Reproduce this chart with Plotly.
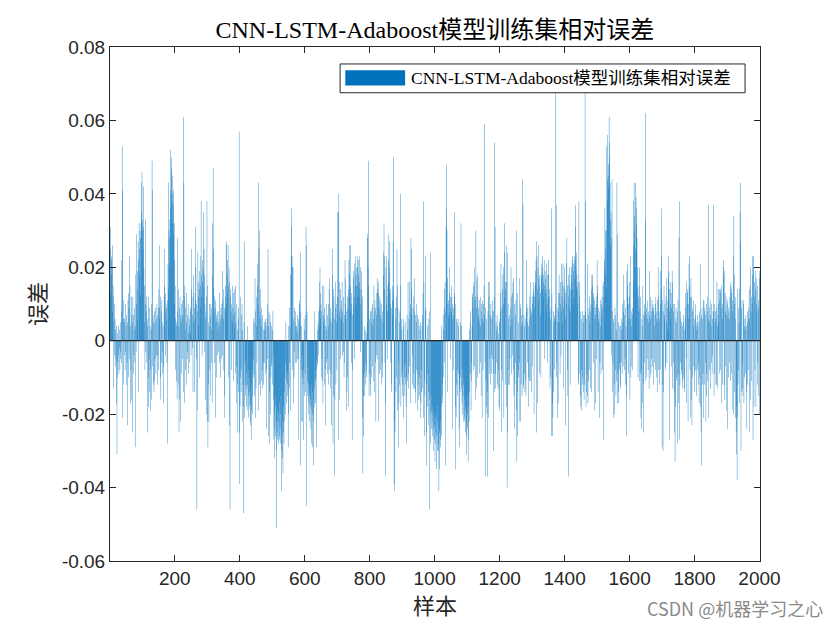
import plotly.graph_objects as go

# Relative error per training sample, in units of 0.001
err_block_01 = [31, 13, 25, 18, 22,
    23, 20, 26, 8, 15, -13, 12, 5, -4, 10,
    6, -7, 3, -5, 4, -17, -31, -10, 2, -6,
    -4, 4, -9, -2, 3, -8, -5, 5, -3, -6,
    8, 22, 53, 41, -21, 6, 11, -12, -4, 5,
    6, -8, 10, -3, 4, -12, 7, -6, -23, 5,
    11, -10, 13, 9, 23, -5, 15, -17, 4, -8,
    12, -16, 7, -25, 5, 12, -9, 7, -4, 3,
    9, -6, -29, 4, 18, -3, 10, 29, 14, 6,
    19, 27, -14, 22, 32, 25, 18, 30, 12, 28,
    32, 43, 35, 46, 30, 33, 25, 42, 31, 20,
    15, 5, -8, 10, 33, -3, 8, 12, -6, 4,
    -25, 6, -10, -18, 12, -5, 9, -14, 4, -8,
    -19, 3, -16, 10, 49, 41, -7, 7, -12, 5,
    -14, 8, -11, 5, -5, 9, -9, 6, -4, 10,
    -12, 7, -4, 9, -8, 14, 26, 9, 6, -10, 12, -16, 8, -6, 11, -3, 5, -9, 4]
err_block_02 = [-7, -17, 12, 25, 15, 8, 13, -4, 10, 6,
    9, -6, 11, -28, 21, 14, 43, 30, 20, 28,
    33, 36, 52, 41, 47, 50, 38, 45, 32, 40,
    41, 37, 29, 32, 22, 10, 15, 6, -8, 4,
    -11, 5, -16, 28, 8, -12, 14, 4, -25, 9,
    -16, 12, 7, -22, 5, 10, -9, 6, 11, -5,
    7, -14, 61, 43, 12, -17, 15, -8, 9, 3,
    -12, 13, 5, -5, 7, -3, 10, 2, -9, 6,
    4, -6, 8, 2, 9, -4, 25, 14, 12, -2,
    7, -14, 5, 18, 13, 9, -14, 6, 31, 11,
    20, 10, -5, -46, -19, 8, 24, 12, 16, 4,
    19, -10, 14, 23, 15, 9, 38, 18, 12, -4,
    22, 16, 20, 14, 35, 25, 18, -3, 10, 6,
    -16, 8, -20, 12, 38, 15, -22, -29, 5, -12,
    -22, 4, 10, -8, -15, 7, 10, -6, 3, 9,
    -17, 32, 18, 47, 14, 25, 8, 12, -6, 9, -21, 11, 5, -10, 7,
    6, -4, 8, 3]
err_block_03 = [5, -3, 8, -6, 13, 4, -10, 6, 9, -5,
    7, 10, -4, 19, 11, 6, 14, -8, -15, 9,
    -21, 12, 8, 15, 26, 10, 27, 18, 22, 13,
    26, 15, -10, 20, 16, -23, -46, 14, 12, 8,
    -8, 10, 6, 15, 5, 9, 13, -11, 7, 4,
    14, 8, 15, -9, 5, -17, -7, 10, -12, 3,
    -25, 6, -14, 9, 57, -39, -25, -18, 12, -10,
    -14, 7, -8, 10, 3, -22, -12, -47, -18, 5,
    27, -21, -6, -15, -12, -5, -18, -9, -13, 4,
    -12, -19, -8, -21, -15, -10, -18, -14, -22, -17,
    -23, -12, -27, -19, -8, -20, -15, -10, 6, -5,
    -9, 5, -15, 17, 8, -21, -13, 12, 4, -6,
    15, 21, 10, -19, 43, 25, 30, -12, 8, 14,
    -15, 6, -11, 9, 4, -8, 7, -13, 3, -6,
    -12, 5, -6, 3, 6, 5, -9, 4, -24, -8,
    6, -5, 10, 25, 4, -26, 8, -14, -28, 7, -20, 5, -10, 4, -7,
    -6, 3, -12, 8, -4]
err_block_04 = [-16, -27, -32, -20, -24, -18, -26, -15, -30, -22,
    -51, -25, -19, -27, -22, -28, -20, -26, -17, -27,
    -24, -20, -28, -15, -30, -41, -26, -32, -22, -36,
    -25, -18, -28, -14, -22, -10, -20, -6, 5, -11,
    -17, -8, -15, -12, -9, -29, -20, 4, -13, -6,
    9, 4, 18, -19, 23, 36, 31, 23, 20, -8,
    20, -17, 6, -10, 9, -3, 5, 8, -6, 4,
    4, -6, 3, 7, -5, 2, 6, -27, -5, 10,
    11, 5, 24, -34, 8, -22, -8, 4, -10, -4,
    -22, -12, -27, -8, 6, -15, 3, -9, 7, -14,
    31, 26, -45, 8, -11, -15, -7, -20, -12, -17,
    -15, -22, -13, -18, -16, -24, -12, -28, -19, -14,
    -29, -20, -34, -22, -16, -18, -13, 8, -10, -17,
    -11, -8, -29, -5, -7, 3, -6, 5, -4, 8,
    4, 9, 16, 20, 13, 6, 10, 8, -10, -5,
    -11, 15, -17, 5, 7, 15, 9, -12, 6, -23, 4, -8, 10, -6, 3,
    -5, 7, -9, 4]
err_block_05 = [10, -12, 14, -8, 17, 6, -13, 9, -9, 5,
    -23, 8, 25, 18, -28, 14, -15, 12, -37, 6,
    -16, 9, 16, -12, 5, 10, -8, 12, 35, 7,
    35, -27, 40, 16, 8, -16, 6, 14, -5, 9,
    11, 6, 16, -4, 8, 5, 12, -3, -10, 7,
    -6, 22, 10, 17, 6, -19, 8, -14, -10, 12,
    9, -18, 14, 22, 18, 26, 12, 26, 15, 8,
    13, -6, 10, -27, 7, -8, 17, 9, 19, 12,
    21, -5, 15, 23, 18, 10, 15, 20, 12, 23,
    20, 15, 22, 18, 12, 23, 16, 14, 20, -3,
    10, 19, 14, 6, 12, -21, -36, -15, -26, -10,
    4, -9, -15, 3, -12, -6, 2, -8, -10, 5,
    28, 29, 20, 49, 15, -15, -9, 6, -12, 8,
    -15, 8, -10, 5, 9, -7, 10, 4, -11, 6,
    15, 8, -14, 11, -6, 9, -22, 7, -4, 13,
    17, 14, -5, 16, 13, -22, 9, 12, -9, 7, 11, -8, 6, -12, 10,
    -6, 8, -10, 5]
err_block_06 = [24, 18, 32, 23, 14, -6, -37, -17, 20, 10,
    23, 12, -5, 8, 15, 22, 16, 29, 13, 20,
    27, 14, 10, -6, 9, -14, -12, 7, 15, 11,
    27, 50, 13, -39, -22, -41, -25, 9, 6, -14,
    -10, 12, 25, 15, -19, 9, -6, -29, -17, 5,
    -12, 8, 40, 15, -18, 6, -10, 3, -15, -8,
    -12, 4, -21, 6, -15, -7, -10, 5, -6, -12,
    -18, -28, -10, 7, -11, 3, 16, -9, -13, 6,
    16, -7, 8, -17, 10, 28, 14, 25, 7, -12,
    -4, 9, -13, 12, -9, 17, 8, -13, -14, 7,
    -17, 5, -8, 10, -9, 7, -19, -12, 6, -16,
    4, -15, -10, 3, -21, 5, -17, -8, -14, 4,
    -13, 7, 13, 38, -21, 16, -26, -11, -15, 8,
    23, 9, -34, -25, -12, 4, -18, -9, 6, -14,
    -23, -16, -46, 8, -20, 24, -28, -15, -19, -24,
    -22, -18, -26, -20, -24, -30, -19, -27, -23, -33, -21, -28, -25, -35, -20,
    -26, -22, -30, -18]
err_block_07 = [-28, -30, -41, -25, -35, -24, -29, -22, -27, -18,
    -26, 4, -15, -17, -12, 7, -10, 3, 9, -6,
    14, 16, -34, 8, 31, 36, 48, 30, 17, -14,
    10, 7, 11, 6, 20, 13, 8, 12, -5, 9,
    15, 8, 12, 10, -24, 6, 9, -8, 7, 13,
    12, 35, 10, -18, -35, -21, 6, -12, 5, -8,
    -15, 6, -9, 4, -24, -12, -29, -14, 5, -10,
    32, 4, -13, -17, -20, -8, -15, -12, -22, -10,
    -21, -16, -22, -18, -25, -19, -31, -23, -26, -15,
    -24, -20, -33, -27, -18, -22, -14, 3, 5, -9,
    8, -19, -6, -11, 4, 12, 13, 9, -8, 15,
    16, 20, -7, 11, -16, 12, 30, -13, 9, 17,
    18, -10, 12, 6, 9, 7, -9, 11, 5, -6,
    12, 4, -15, 8, 10, -21, 6, 11, -8, 5,
    10, 15, 7, 59, -6, 9, -37, -11, 6, -18,
    -20, -37, -14, 8, 16, -21, 12, -9, 16, -5, 7, -12, 10, -4, 6,
    -9, 11, -5, 8]
err_block_08 = [-9, -30, 8, 12, -14, 54, 31, -13, -9, 5,
    3, -6, 7, -12, 4, -13, 2, -8, -18, 5,
    -19, 6, 8, 13, 21, -8, -25, 9, 14, -11,
    18, 20, 10, -21, 12, 32, 24, 16, -12, 14,
    26, 16, -18, -40, 24, -25, 10, -12, 6, -8,
    -12, 7, -5, 4, 9, 20, 12, -9, 6, -4,
    13, 16, -8, 17, -15, -24, 10, -12, 7, -6,
    11, -19, 30, -33, 13, -26, -14, -8, 5, -10,
    -22, -6, 17, 10, -22, 9, -12, 4, 7, -15,
    5, 44, 37, -12, -13, 7, -9, 4, -14, 6,
    -11, -15, 22, 8, 10, 5, -6, 9, -18, 4,
    -10, -11, 6, 12, 16, -11, 9, 7, -14, 8,
    12, 10, -7, 14, 13, 16, -20, 12, 9, 15,
    19, 16, 22, 27, -25, 23, 14, -17, 20, 11,
    26, 17, 15, -9, 18, 13, 7, -10, 17, 21,
    18, 14, 23, 20, 16, 18, 12, 22, 15, -5, 19, 13, 17, 8, 21,
    14, 10, 18, -6, 12]
err_block_09 = [22, 18, 12, 8, 14, -13, 6, -10, 9, -26,
    36, 13, -26, -17, -21, 8, -14, 5, -8, 6,
    7, 10, 6, 68, 37, -10, -6, 9, -21, 5,
    -17, 13, 8, 18, 13, 5, -9, 16, 10, -4,
    21, 8, 12, 16, 5, 21, -13, 9, 15, 11,
    20, 14, 6, -23, 13, 10, 21, 28, 15, -8,
    -15, 12, -37, 18, 15, 9, 20, -12, 14, 8,
    18, 20, 16, 22, 14, 23, 10, 19, 21, 12,
    23, 17, 22, 37, 31, 20, 15, 24, 18, 10,
    14, 16, -12, -11, 38, 16, 12, -9, 8, -15,
    -18, -19, 6, -8, 8, -12, -10, 5, -14, 7,
    -16, -12, 7, 68, 38, 8, -18, -14, 6, -9,
    21, -15, -17, 7, -11, 9, 12, -8, 5, -13,
    8, 10, -14, 14, 18, 15, 18, 9, -6, 12,
    13, 11, 6, -19, 9, -17, 7, 12, 10, -5,
    22, 13, 15, -14, 6, 9, 5, -21, 8, -6, 11, 4, -9, 7, 10,
    12, -8, 9, 15]
err_block_10 = [-27, 16, 12, 20, 22, 36, 18, 30, 25, 14,
    30, 53, 38, 44, 56, 45, 48, 42, 61, 54,
    50, 43, 33, 26, 35, -4, 28, 44, -14, 8,
    -6, 6, -21, 5, -20, -12, 9, -8, 7, -15,
    3, -11, 43, 29, -17, -9, -14, 5, -17, -6,
    -8, 4, -12, 4, -13, 6, -6, 3, -9, 5,
    10, -7, 18, 8, 11, -8, 7, -5, 9, -12,
    4, -15, -26, 19, 15, 21, 12, -9, 10, 6,
    16, 12, -16, 23, 6, -10, 8, 4, -7, 9,
    7, -8, 15, 38, 26, 43, 30, 34, 20, 25,
    43, 39, 36, 32, 28, 20, 14, -10, 12, 8,
    15, -11, 20, 9, -9, 12, -21, -8, -24, 6,
    -17, 4, 15, -12, -25, 7, 10, -6, 8, -11,
    62, 33, 7, -10, 9, -5, 6, 11, -8, 5,
    8, -13, 19, 7, -10, 12, 6, -9, 8, -5,
    11, 9, -7, 10, 8, -12, 9, 4, -6, 7, 10, -8, 12, 6, -10,
    8, -14, 11, 5]
err_block_11 = [20, 12, -8, 8, -12, 6, -8, 10, 19, 14,
    23, 36, -29, -12, 11, -30, 8, -14, 15, 6,
    7, 10, -8, -7, 12, 17, 5, -6, 9, 3,
    11, 23, 17, 19, 14, -27, 8, 16, 10, 6,
    13, -7, 9, 19, 16, -13, 10, -6, 8, -14,
    -25, 10, -33, 6, -18, 9, -11, 5, -10, 8,
    -28, 11, -17, -9, 28, 38, -27, -12, 8, -6,
    6, -8, 5, -9, -13, 4, -11, 7, -10, 5,
    -13, 3, -14, 6, 9, 13, -5, 16, -17, 10,
    13, 14, -22, 6, 10, 21, 15, 23, -8, 12,
    -21, 17, -16, 12, -23, 8, -10, 9, -7, 11,
    4, -14, 6, -9, 7, 10, -8, 5, -15, 3,
    4, -8, 7, -12, 5, -6, -17, 8, -10, 6,
    -18, 21, -25, 7, -34, 9, -12, 6, -9, 11,
    -21, 11, 8, -12, 9, -6, 7, -22, 10, -15,
    -9, 8, 12, -11, 6, 37, -21, 9, 5, -8, 11, -13, 7, 4, -6,
    10, -9, 6, -4, 8]
err_block_12 = [37, 8, -15, 10, -9, 5, 8, 6, -12, 9,
    -12, 16, -13, 4, 7, 14, 10, 5, 14, -9,
    11, -8, 14, 13, 9, 15, -17, -12, 6, 10,
    20, 22, 17, -12, 19, -16, 13, 8, -7, 12,
    7, -19, 10, 11, -24, 6, 9, -10, 8, -6,
    6, 12, 15, -11, 16, 14, -9, 13, 11, 8,
    -19, 23, -20, 34, 18, 10, -14, 12, -21, 6,
    -25, -18, -31, -38, -21, 14, -12, 9, -8, 5,
    14, -17, 35, 27, 43, -30, 9, -14, 11, -6,
    -13, -15, 10, 11, -17, 4, -10, 6, 3, -9,
    7, 4, -14, -24, 5, -12, 8, -8, 6, 9,
    14, 6, -25, 15, -16, 20, 8, -11, 12, 10,
    23, 18, -27, 20, 23, -18, 16, 12, -8, 14,
    19, -18, 10, 17, 8, -12, 15, -6, 11, 9,
    -15, 17, -20, 19]

x_tick_values = [200, 400, 600, 800, 1000, 1200, 1400, 1600, 1800, 2000]
y_tick_values = [-0.06, -0.04, -0.02, 0, 0.02, 0.04, 0.06, 0.08]
y_tick_labels = ["-0.06", "-0.04", "-0.02", "0", "0.02", "0.04", "0.06", "0.08"]

title_text = "CNN-LSTM-Adaboost模型训练集相对误差"
legend_text = "CNN-LSTM-Adaboost模型训练集相对误差"
x_label = "样本"
y_label = "误差"

blocks = [err_block_01, err_block_02, err_block_03, err_block_04, err_block_05, err_block_06,
          err_block_07, err_block_08, err_block_09, err_block_10, err_block_11, err_block_12]
errors = [v / 1000.0 for b in blocks for v in b]
samples = list(range(1, len(errors) + 1))

BLUE = "rgba(0,114,189,0.99)"
SERIF = "Liberation Serif, Times New Roman, Noto Sans CJK SC, serif"
SANS = "Liberation Sans, Arial, sans-serif"

fig = go.Figure()
fig.add_trace(go.Bar(x=samples, y=errors, width=1.2,
                     marker=dict(color=BLUE, line=dict(width=0)),
                     showlegend=False, hoverinfo="x+y"))

axis_common = dict(showline=True, linecolor="#262626", linewidth=1, mirror="ticks",
                   ticks="inside", ticklen=6, tickcolor="#262626", showgrid=False,
                   zeroline=False, tickfont=dict(family=SANS, size=19, color="#262626"))

fig.update_layout(
    width=832, height=622,
    paper_bgcolor="white", plot_bgcolor="white",
    margin=dict(l=102, r=80, t=39, b=69),
    bargap=0.2,
    showlegend=False,
    xaxis=dict(range=[0.5, len(errors) + 0.5], tickvals=x_tick_values, **axis_common),
    yaxis=dict(range=[-0.06, 0.08], tickvals=y_tick_values, ticktext=y_tick_labels, **axis_common),
    title=dict(text=title_text, x=0.513, xanchor="center", y=0.965, yanchor="middle",
               font=dict(family=SERIF, size=24, color="black")),
)
fig.update_xaxes(title=dict(text=x_label, font=dict(family=SERIF, size=22, color="#262626"), standoff=10))
fig.update_yaxes(title=dict(text=y_label, font=dict(family=SERIF, size=22, color="#262626"), standoff=9))

# baseline at zero
fig.add_shape(type="line", xref="paper", yref="y", x0=0, x1=1, y0=0, y1=0,
              line=dict(color="#262626", width=1.2), layer="above")

# legend box drawn like the MATLAB legend
fig.add_shape(type="rect", xref="paper", yref="paper", x0=0.354, x1=0.977, y0=0.911, y1=0.967,
              line=dict(color="#262626", width=1), fillcolor="white", layer="above")
fig.add_shape(type="rect", xref="paper", yref="paper", x0=0.362, x1=0.454, y0=0.925, y1=0.955,
              line=dict(width=0), fillcolor="#0072BD", layer="above")
fig.add_annotation(xref="paper", yref="paper", x=0.46, y=0.940, xanchor="left", yanchor="middle",
                   text=legend_text, showarrow=False,
                   font=dict(family=SERIF, size=17.5, color="black"))

# watermark
fig.add_annotation(xref="paper", yref="paper", x=1.1, y=-0.091, xanchor="right", yanchor="middle",
                   text="CSDN @机器学习之心", showarrow=False,
                   font=dict(family="Noto Sans CJK SC, sans-serif", size=18, color="#8a8a8a"))

fig.write_html("out.html")
